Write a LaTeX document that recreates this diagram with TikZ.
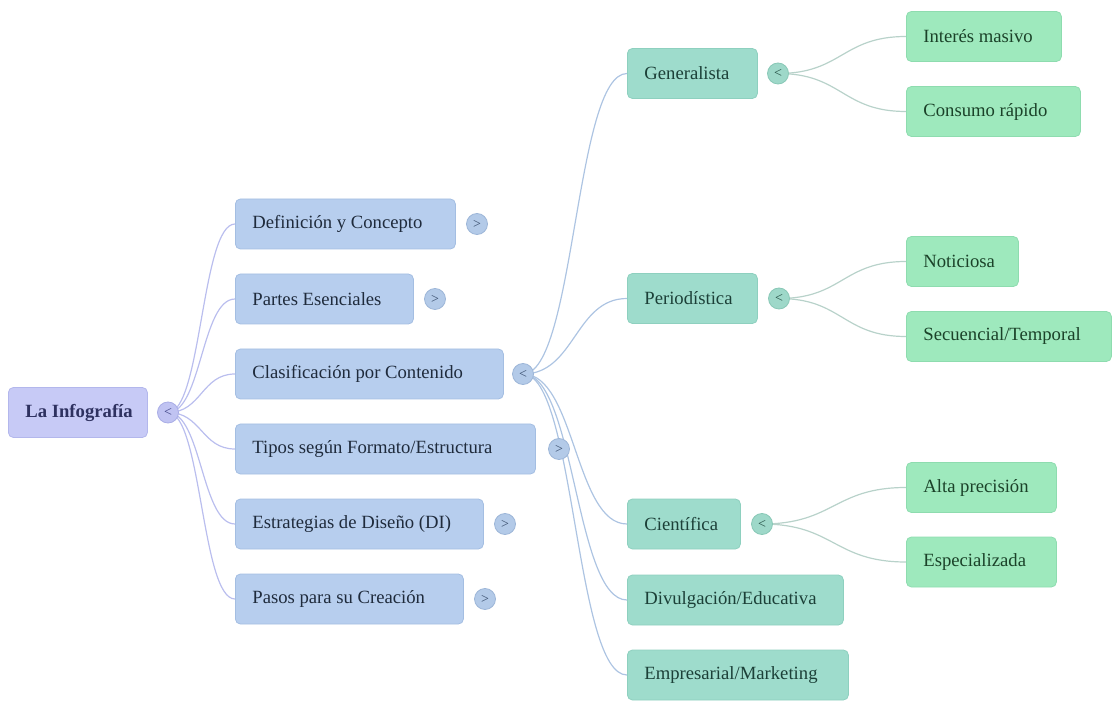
\documentclass[tikz,border=0pt]{standalone}
\usepackage{fontspec}
\setmainfont{Liberation Serif}
\usetikzlibrary{calc}
\pgfdeclarelayer{bg}
\pgfsetlayers{bg,main}
\definecolor{rootfill}{HTML}{C7CAF6}
\definecolor{rootline}{HTML}{B3B7EC}
\definecolor{roottext}{HTML}{2E3160}
\definecolor{lafill}{HTML}{B7CEEE}
\definecolor{laline}{HTML}{A4BEE2}
\definecolor{latext}{HTML}{1F2B3C}
\definecolor{lbfill}{HTML}{9EDCCC}
\definecolor{lbline}{HTML}{8ED0BF}
\definecolor{lbtext}{HTML}{1C4038}
\definecolor{lcfill}{HTML}{9EE9BD}
\definecolor{lcline}{HTML}{8EDCAF}
\definecolor{lctext}{HTML}{1B4229}
\definecolor{linkroot}{HTML}{BABEEE}
\definecolor{linka}{HTML}{ADC4E2}
\definecolor{linkb}{HTML}{B8D2CA}
\definecolor{rtogfill}{HTML}{C0C3F2}
\definecolor{rtogline}{HTML}{A9ADE6}
\definecolor{rtogtext}{HTML}{3F4486}
\definecolor{atogfill}{HTML}{B3CAE8}
\definecolor{atogline}{HTML}{9DB6D8}
\definecolor{atogtext}{HTML}{3A4F6E}
\definecolor{btogfill}{HTML}{9ED8C9}
\definecolor{btogline}{HTML}{88C8B6}
\definecolor{btogtext}{HTML}{244F44}
\newcommand\mmbox[2]{\makebox[\dimexpr#1pt-34pt\relax][l]{#2}}
\newcommand\mmlink[3]{\draw[#1] let \p1=(#2), \p2=(#3) in (\p1) .. controls ({(\x1+\x2)/2},\y1) and ({(\x1+\x2)/2},\y2) .. (\p2);}
\tikzset{
  boxbase/.style={rectangle, rounded corners=5pt, anchor=west, minimum height=50pt,
    inner xsep=17pt, inner ysep=0pt, line width=0.8pt, font=\fontsize{18.67}{22}\selectfont},
  rootbox/.style={boxbase, fill=rootfill, draw=rootline, text=roottext},
  abox/.style={boxbase, fill=lafill, draw=laline, text=latext},
  bbox/.style={boxbase, fill=lbfill, draw=lbline, text=lbtext},
  cbox/.style={boxbase, fill=lcfill, draw=lcline, text=lctext},
  togbase/.style={circle, minimum size=21pt, inner sep=0pt, line width=0.8pt, font=\fontsize{14}{14}\selectfont},
  rtog/.style={togbase, fill=rtogfill, draw=rtogline, text=rtogtext},
  atog/.style={togbase, fill=atogfill, draw=atogline, text=atogtext},
  btog/.style={togbase, fill=btogfill, draw=btogline, text=btogtext},
  rlink/.style={draw=linkroot, line width=1.2pt},
  alink/.style={draw=linka, line width=1.2pt},
  blink/.style={draw=linkb, line width=1.2pt}
}
\begin{document}
\begin{tikzpicture}[x=1pt,y=-1pt]
\useasboundingbox (0,0) rectangle (1112,703);
% root
\node[rootbox] (root) at (8,412.5) {\mmbox{139}{\textbf{La Infografía}}};
\node[rtog] (troot) at (168,412.5) {<};
% level 1
\node[abox] (def) at (235,224) {\mmbox{220}{Definición y Concepto}};
\node[abox] (par) at (235,299) {\mmbox{178}{Partes Esenciales}};
\node[abox] (cla) at (235,374) {\mmbox{268}{Clasificación por Contenido}};
\node[abox] (tip) at (235,449) {\mmbox{300}{Tipos según Formato/Estructura}};
\node[abox] (est) at (235,524) {\mmbox{248}{Estrategias de Diseño (DI)}};
\node[abox] (pas) at (235,599) {\mmbox{228}{Pasos para su Creación}};
\node[atog] (tdef) at (477,224) {>};
\node[atog] (tpar) at (435,299) {>};
\node[atog] (tcla) at (523,374) {<};
\node[atog] (ttip) at (559,449) {>};
\node[atog] (test) at (505,524) {>};
\node[atog] (tpas) at (485,599) {>};
% level 2
\node[bbox] (gen) at (627,73.5) {\mmbox{130}{Generalista}};
\node[bbox] (per) at (627,298.5) {\mmbox{130}{Periodística}};
\node[bbox] (cie) at (627,524) {\mmbox{113}{Científica}};
\node[bbox] (div) at (627,600) {\mmbox{216}{Divulgación/Educativa}};
\node[bbox] (emp) at (627,675) {\mmbox{221}{Empresarial/Marketing}};
\node[btog] (tgen) at (778,73.5) {<};
\node[btog] (tper) at (779,298.5) {<};
\node[btog] (tcie) at (762,524) {<};
% level 3
\node[cbox] (int) at (906,36.5) {\mmbox{155}{Interés masivo}};
\node[cbox] (con) at (906,111.5) {\mmbox{174}{Consumo rápido}};
\node[cbox] (not) at (906,261.5) {\mmbox{112}{Noticiosa}};
\node[cbox] (sec) at (906,336.5) {\mmbox{205}{Secuencial/Temporal}};
\node[cbox] (alt) at (906,487.5) {\mmbox{150}{Alta precisión}};
\node[cbox] (esp) at (906,562) {\mmbox{150}{Especializada}};
\begin{pgfonlayer}{bg}
\mmlink{rlink}{troot.center}{def.west}
\mmlink{rlink}{troot.center}{par.west}
\mmlink{rlink}{troot.center}{cla.west}
\mmlink{rlink}{troot.center}{tip.west}
\mmlink{rlink}{troot.center}{est.west}
\mmlink{rlink}{troot.center}{pas.west}
\mmlink{alink}{tcla.center}{gen.west}
\mmlink{alink}{tcla.center}{per.west}
\mmlink{alink}{tcla.center}{cie.west}
\mmlink{alink}{tcla.center}{div.west}
\mmlink{alink}{tcla.center}{emp.west}
\mmlink{blink}{tgen.center}{int.west}
\mmlink{blink}{tgen.center}{con.west}
\mmlink{blink}{tper.center}{not.west}
\mmlink{blink}{tper.center}{sec.west}
\mmlink{blink}{tcie.center}{alt.west}
\mmlink{blink}{tcie.center}{esp.west}
\end{pgfonlayer}
\end{tikzpicture}
\end{document}
